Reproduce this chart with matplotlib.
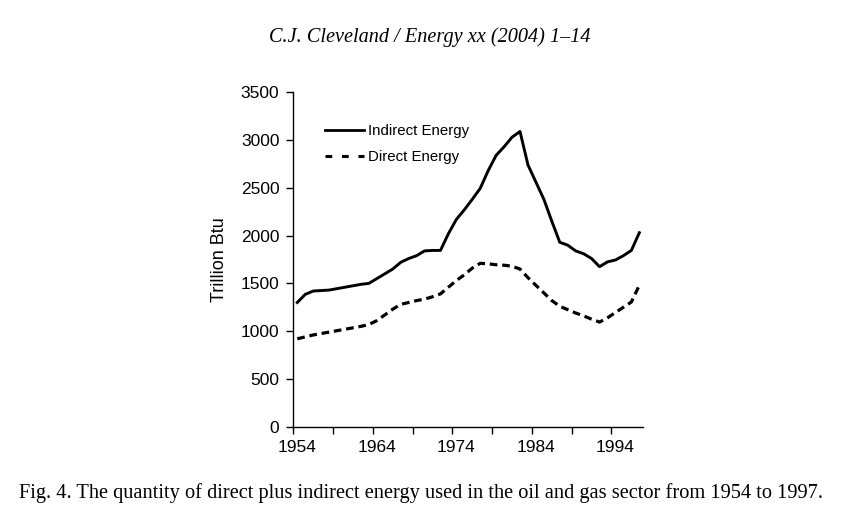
import matplotlib
matplotlib.use("Agg")
import matplotlib.pyplot as plt
from matplotlib.lines import Line2D
from matplotlib.ticker import FixedLocator, NullFormatter

years = list(range(1954, 1998))
indirect = [1300, 1385, 1420, 1425, 1430, 1445, 1460, 1475, 1490, 1500,
            1550, 1600, 1650, 1720, 1760, 1790, 1840, 1845, 1845, 2020,
            2170, 2270, 2380, 2495, 2680, 2840, 2930, 3030, 3090, 2740,
            2560, 2380, 2150, 1930, 1900, 1840, 1810, 1760, 1675, 1725,
            1745, 1790, 1845, 2030]
direct = [920, 940, 960, 975, 990, 1005, 1020, 1035, 1050, 1070,
          1110, 1170, 1230, 1280, 1300, 1320, 1335, 1360, 1390, 1460,
          1530, 1590, 1660, 1710, 1705, 1695, 1690, 1680, 1650, 1560,
          1480, 1400, 1320, 1260, 1225, 1190, 1160, 1125, 1095, 1140,
          1195, 1250, 1305, 1480]
label_years = [1954, 1964, 1974, 1984, 1994]
series_names = ["Indirect Energy", "Direct Energy"]
header = "C.J. Cleveland / Energy xx (2004) 1\u201314"
caption = ("Fig. 4. The quantity of direct plus indirect energy used in the oil "
           "and gas sector from 1954 to 1997.")

fig = plt.figure(figsize=(8.53, 5.11), dpi=100)
fig.patch.set_facecolor("white")
ax = fig.add_axes([293.3 / 853, 1 - 426.7 / 511, 350 / 853, 334.4 / 511])

ax.plot(years, indirect, color="black", lw=2.1, solid_joinstyle="round")
ax.plot(years, direct, color="black", lw=2.3, linestyle=(0, (2.4, 1.5)))

ax.set_xlim(years[0] - 0.5, years[-1] + 0.5)
ax.set_ylim(0, 3500)
ax.set_yticks(range(0, 3501, 500))

# category boundaries as ticks, labels centered on categories
bounds = [years[0] - 0.5 + 5 * k for k in range(9)]
ax.xaxis.set_minor_locator(FixedLocator(bounds))
ax.xaxis.set_minor_formatter(NullFormatter())
ax.set_xticks(label_years)
ax.set_xticklabels([str(y) for y in label_years])
ax.tick_params(axis="x", which="major", length=0, pad=9.5)
ax.tick_params(axis="x", which="minor", length=5, width=1, direction="out")
ax.tick_params(axis="y", length=5, width=1, direction="out", pad=5)

for lab in ax.get_xticklabels() + ax.get_yticklabels():
    lab.set_fontfamily("Liberation Sans")
    lab.set_fontsize(12.5)

for s in ["top", "right"]:
    ax.spines[s].set_visible(False)
for s in ["left", "bottom"]:
    ax.spines[s].set_linewidth(1.0)
    ax.spines[s].set_color("black")

fig.text(220 / 853, 1 - 259.5 / 511, "Trillion Btu", rotation=90,
         ha="center", va="center", fontsize=13, family="Liberation Sans")

handles = [Line2D([], [], color="black", lw=2.0),
           Line2D([], [], color="black", lw=2.2, linestyle=(0, (2.2, 3.2)))]
ax.legend(handles, series_names, loc="upper left",
          bbox_to_anchor=((325 - 293.3) / 350, (426.7 - 124) / 334.4),
          frameon=False, borderpad=0, borderaxespad=0, handlelength=2.6,
          handletextpad=0.25, labelspacing=0.8,
          prop={"family": "Liberation Sans", "size": 10.8})

fig.text(430 / 853, 1 - 37 / 511, header, ha="center", va="center",
         fontsize=14.6, family="Liberation Serif", style="italic")
fig.text(421 / 853, 1 - 493 / 511, caption, ha="center", va="center",
         fontsize=14.7, family="Liberation Serif")

fig.savefig("out.png", dpi=100, facecolor="white")
